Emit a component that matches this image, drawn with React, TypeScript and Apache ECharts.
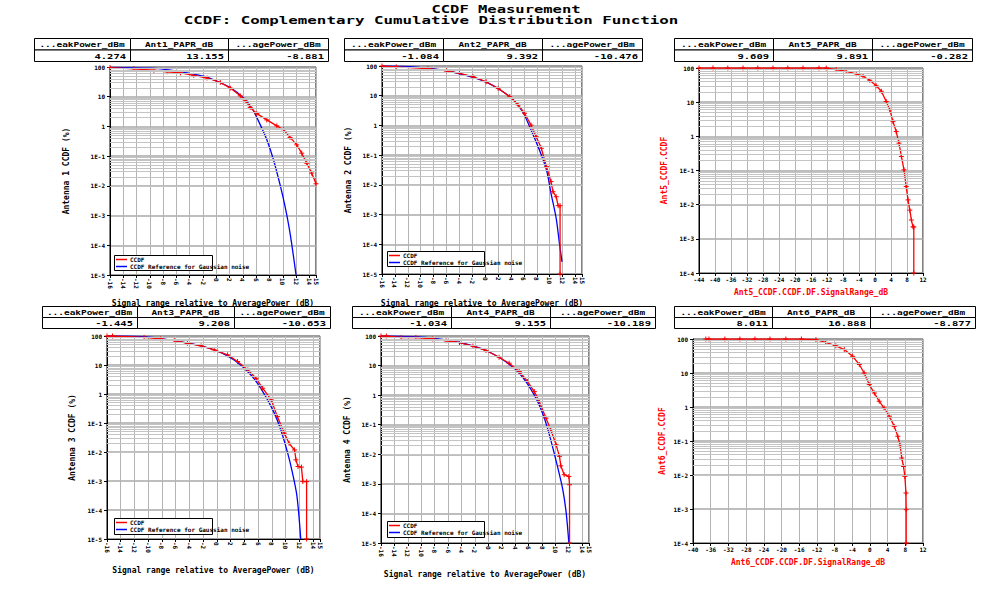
import React, { useEffect, useRef } from 'react';
import * as echarts from 'echarts';

// ---------------- DATA ----------------
const titleLines = ['CCDF Measurement', 'CCDF: Complementary Cumulative Distribution Function'];

const tableHeadersAnt1 = ['...eakPower_dBm', 'Ant1_PAPR_dB', '...agePower_dBm'];
const tableHeadersAnt2 = ['...eakPower_dBm', 'Ant2_PAPR_dB', '...agePower_dBm'];
const tableHeadersAnt5 = ['...eakPower_dBm', 'Ant5_PAPR_dB', '...agePower_dBm'];
const tableHeadersAnt3 = ['...eakPower_dBm', 'Ant3_PAPR_dB', '...agePower_dBm'];
const tableHeadersAnt4 = ['...eakPower_dBm', 'Ant4_PAPR_dB', '...agePower_dBm'];
const tableHeadersAnt6 = ['...eakPower_dBm', 'Ant6_PAPR_dB', '...agePower_dBm'];

const tableValuesAnt1 = ['4.274', '13.155', '-8.881'];
const tableValuesAnt2 = ['-1.084', '9.392', '-10.476'];
const tableValuesAnt5 = ['9.609', '9.891', '-0.282'];
const tableValuesAnt3 = ['-1.445', '9.208', '-10.653'];
const tableValuesAnt4 = ['-1.034', '9.155', '-10.189'];
const tableValuesAnt6 = ['8.011', '16.888', '-8.877'];

const legendNames = ['CCDF', 'CCDF Reference for Gaussian noise'];
const xNameRelative = 'Signal range relative to AveragePower (dB)';
const yNames = ['Antenna 1 CCDF (%)', 'Antenna 2 CCDF (%)', 'Ant5_CCDF.CCDF', 'Antenna 3 CCDF (%)', 'Antenna 4 CCDF (%)', 'Ant6_CCDF.CCDF'];
const xNameAnt5 = 'Ant5_CCDF.CCDF.DF.SignalRange_dB';
const xNameAnt6 = 'Ant6_CCDF.CCDF.DF.SignalRange_dB';

// CCDF curves: x in dB, y given as log10 of CCDF (%)
const ant1MeasX = [-16, -12.4, -9.4, -7.4, -5.4, -3.4, -1.4, 0.6, 2.1, 3.6, 4.35, 5.1, 6.1, 7.6, 9.1, 10.1, 11.1, 12.1, 12.85, 13.6, 14.35, 15];
const ant1MeasLog = [1.98, 1.94, 1.89, 1.84, 1.8, 1.72, 1.63, 1.48, 1.29, 1.03, 0.88, 0.64, 0.43, 0.22, 0.02, -0.11, -0.37, -0.62, -0.9, -1.24, -1.57, -1.93];
const ant1RefX = [-16, -9.9, -7.4, -4.4, -1.9, 0.1, 2.1, 4.1, 5.35, 6.6, 7.6, 8.6, 9.6, 10.35, 11.1, 12.0];
const ant1RefLog = [1.99, 1.96, 1.91, 1.8, 1.69, 1.52, 1.31, 0.96, 0.62, 0.06, -0.45, -1.12, -1.97, -2.7, -3.6, -5.0];

const ant2MeasX = [-16, -13.8, -8.9, -6.0, -4.0, -1.9, 0.15, 2.0, 3.8, 5.1, 6.1, 7.1, 7.9, 8.7, 9.5, 10.2, 10.5, 11.0, 11.3, 11.6, 11.6];
const ant2MeasLog = [2.0, 1.97, 1.91, 1.84, 1.75, 1.64, 1.47, 1.25, 0.97, 0.69, 0.41, 0.01, -0.38, -0.77, -1.39, -1.89, -2.23, -2.4, -2.7, -2.7, -5];
const ant2RefX = [-16, -10.7, -6, -1.9, 0.15, 2.2, 4.3, 5.8, 7.1, 8.4, 9.5, 10.2, 11.0, 11.5, 11.9];
const ant2RefLog = [2.0, 1.96, 1.84, 1.62, 1.46, 1.21, 0.88, 0.46, -0.15, -0.83, -1.5, -2.29, -3.13, -3.97, -4.59];

const ant3MeasX = [-16, -15.2, -10.6, -8.2, -6.2, -4.3, -2.3, -0.4, 1.55, 3.0, 4.5, 5.7, 6.65, 7.9, 8.8, 9.8, 10.5, 11.3, 11.5, 11.8, 12.3, 12.5, 13.05, 13.05];
const ant3MeasLog = [2, 2.0, 1.95, 1.9, 1.84, 1.75, 1.66, 1.52, 1.35, 1.12, 0.83, 0.54, 0.2, -0.2, -0.78, -1.35, -1.7, -1.93, -2.27, -2.5, -2.52, -3.02, -3.02, -5];
const ant3RefX = [-16, -10.6, -6.2, -2.3, 0.6, 2.5, 4.5, 5.9, 7.1, 8.35, 9.3, 10.3, 11.0, 11.65, 12.2];
const ant3RefLog = [2, 1.98, 1.84, 1.66, 1.43, 1.17, 0.77, 0.37, -0.09, -0.66, -1.24, -2.04, -2.73, -3.53, -5];

const ant4MeasX = [-16, -15.2, -13, -10.8, -8.3, -6.3, -4.3, -2.3, -0.35, 1.6, 3.1, 4.6, 5.85, 6.85, 7.6, 8.6, 9.3, 10.1, 10.6, 10.8, 11.3, 12.0, 12.1, 12.1];
const ant4MeasLog = [2, 2, 1.95, 1.95, 1.9, 1.84, 1.78, 1.66, 1.51, 1.28, 1.08, 0.8, 0.46, 0.12, -0.22, -0.78, -1.17, -1.68, -2.07, -2.39, -2.69, -2.75, -3.03, -5];
const ant4RefX = [-16, -9.3, -4.3, -0.35, 2.6, 4.6, 6.1, 7.35, 8.35, 9.3, 10.3, 11.1, 11.6, 12.0];
const ant4RefLog = [2, 1.95, 1.78, 1.51, 1.13, 0.74, 0.29, -0.22, -0.78, -1.51, -2.41, -3.2, -3.98, -5];

const ant5X = [-44, -40.5, -36.8, -33, -29.3, -25.5, -21.8, -18, -14, -12.2, -9.7, -7.2, -4.7, -3.0, -1.3, 0.3, 1.6, 2.8, 3.7, 4.5, 5.3, 6.0, 6.6, 7.25, 7.8, 8.25, 8.7, 9.1, 9.5, 9.7, 9.7];
const ant5Log = [2, 2, 2, 2, 2, 2, 2, 2, 2, 2.0, 1.95, 1.9, 1.83, 1.76, 1.64, 1.48, 1.32, 1.02, 0.78, 0.43, 0.14, -0.2, -0.59, -0.98, -1.47, -1.86, -2.16, -2.45, -2.65, -2.65, -4];

const ant6X = [-37.1, -36.4, -32.8, -29.4, -26, -22.6, -19, -15.5, -12.2, -10, -7.7, -5.8, -3.9, -2.4, -1.3, -0.15, 1.0, 2.1, 3.2, 4.4, 5.5, 6.3, 6.8, 7.2, 7.6, 7.9, 8.15, 8.2, 8.2];
const ant6Log = [2, 2, 2, 2, 2, 2, 2, 2, 1.98, 1.9, 1.8, 1.69, 1.49, 1.25, 1.0, 0.66, 0.41, 0.17, -0.03, -0.27, -0.57, -0.86, -1.11, -1.5, -1.75, -2.04, -2.53, -3.02, -4];

// x axis extents / tick steps
const relAxis = { min: -16, max: 15, interval: 2 };
const ant5Axis = { min: -44, max: 12, interval: 4 };
const ant6Axis = { min: -40, max: 12, interval: 4 };

// ---------------- LAYOUT ----------------
const FONT = '"DejaVu Sans Mono", "Liberation Mono", monospace';
const GRIDS = [
  { left: 110, top: 67, width: 206, height: 208 },
  { left: 382, top: 66, width: 200, height: 208 },
  { left: 699, top: 68, width: 224, height: 205 },
  { left: 107, top: 336, width: 213, height: 203 },
  { left: 381, top: 336, width: 208, height: 207 },
  { left: 693, top: 339, width: 230, height: 204 },
];
const TABLES = [
  { cols: [34, 130, 228, 328], rows: [38, 49.5, 61] },
  { cols: [344, 443, 542, 642], rows: [38, 49.5, 61] },
  { cols: [674, 773, 872, 972], rows: [38, 49.5, 61] },
  { cols: [42, 137, 234, 330], rows: [306, 317, 328] },
  { cols: [352, 451, 550, 655], rows: [306, 317, 328] },
  { cols: [674, 772, 870, 975], rows: [306, 317, 328] },
];
const LEGENDS = [
  { gi: 0, box: [114, 255, 98, 15] },
  { gi: 1, box: [387, 251, 97, 15] },
  { gi: 3, box: [114, 518, 98, 16] },
  { gi: 4, box: [387, 521, 97, 16] },
];

const toPairs = (xs: number[], logs: number[]) => xs.map((x, i) => [x, Math.pow(10, logs[i])]);

const PLUS = 'path://M0,5L10,5M5,0L5,10';

function buildOption() {
  const tableHeaders = [tableHeadersAnt1, tableHeadersAnt2, tableHeadersAnt5, tableHeadersAnt3, tableHeadersAnt4, tableHeadersAnt6];
  const tableValues = [tableValuesAnt1, tableValuesAnt2, tableValuesAnt5, tableValuesAnt3, tableValuesAnt4, tableValuesAnt6];

  const graphic: any[] = [];
  graphic.push({ type: 'text', x: 506, y: 10, scaleX: 1.55, style: { text: titleLines[0], font: `bold 10px ${FONT}`, fill: '#000', textAlign: 'center', align: 'center', textVerticalAlign: 'middle', verticalAlign: 'middle' } });
  graphic.push({ type: 'text', x: 431, y: 21, scaleX: 1.58, style: { text: titleLines[1], font: `bold 10px ${FONT}`, fill: '#000', textAlign: 'center', align: 'center', textVerticalAlign: 'middle', verticalAlign: 'middle' } });

  TABLES.forEach((t, ti) => {
    const [y0, y1, y2] = t.rows;
    for (let c = 0; c < 3; c++) {
      const x0 = t.cols[c];
      const x1 = t.cols[c + 1];
      graphic.push({ type: 'rect', shape: { x: x0 + 0.5, y: y0 + 0.5, width: x1 - x0, height: y1 - y0 }, style: { fill: '#fff', stroke: '#000', lineWidth: 1 } });
      graphic.push({ type: 'rect', shape: { x: x0 + 0.5, y: y1 + 0.5, width: x1 - x0, height: y2 - y1 }, style: { fill: '#fff', stroke: '#000', lineWidth: 1 } });
      graphic.push({ type: 'text', x: (x0 + x1) / 2, y: (y0 + y1) / 2 + 1, scaleX: 1.35, style: { text: tableHeaders[ti][c], font: `bold 7px ${FONT}`, fill: '#000', textAlign: 'center', align: 'center', textVerticalAlign: 'middle', verticalAlign: 'middle' } });
      graphic.push({ type: 'text', x: x1 - 4, y: (y1 + y2) / 2 + 1, scaleX: 1.5, style: { text: tableValues[ti][c], font: `bold 7px ${FONT}`, fill: '#000', textAlign: 'right', align: 'right', textVerticalAlign: 'middle', verticalAlign: 'middle' } });
    }
  });

  LEGENDS.forEach((l) => {
    const [x, y, w, h] = l.box;
    graphic.push({ type: 'rect', z: 10, shape: { x: x + 0.5, y: y + 0.5, width: w, height: h }, style: { fill: '#fff', stroke: '#000', lineWidth: 1 } });
  });

  const grid = GRIDS.map((g) => ({ ...g, show: true, borderColor: '#000', borderWidth: 1, backgroundColor: 'transparent', containLabel: false }));

  const axisFont = { fontSize: 6, fontFamily: FONT, fontWeight: 'bold' as const, color: '#000' };
  const nameFont = { fontSize: 8, fontFamily: FONT, fontWeight: 'bold' as const, color: '#000' };
  const redNameFont = { ...nameFont, color: '#ff0000' };

  const xSpecs = [
    { ext: relAxis, name: xNameRelative, gap: 24, rot: -90, font: nameFont },
    { ext: relAxis, name: xNameRelative, gap: 25, rot: -90, font: nameFont },
    { ext: ant5Axis, name: xNameAnt5, gap: 15, rot: 0, font: redNameFont },
    { ext: relAxis, name: xNameRelative, gap: 27, rot: -90, font: nameFont },
    { ext: relAxis, name: xNameRelative, gap: 27, rot: -90, font: nameFont },
    { ext: ant6Axis, name: xNameAnt6, gap: 15, rot: 0, font: redNameFont },
  ];
  const xAxis = xSpecs.map((s, i) => ({
    type: 'value',
    gridIndex: i,
    min: s.ext.min,
    max: s.ext.max,
    interval: s.ext.interval,
    name: s.name,
    nameLocation: 'middle',
    nameGap: s.gap,
    nameTextStyle: s.font,
    axisLine: { show: true, onZero: false, lineStyle: { color: '#000', width: 1 } },
    axisTick: { show: true, length: 3, lineStyle: { color: '#000' } },
    axisLabel: { ...axisFont, rotate: s.rot, margin: 3, showMinLabel: true, showMaxLabel: true, hideOverlap: false },
    splitLine: { show: true, lineStyle: { color: '#b4b4b4', width: 1 } },
  }));

  const yGaps = [40, 30, 31, 31, 30, 27];
  const yMins = [1e-5, 1e-5, 1e-4, 1e-5, 1e-5, 1e-4];
  const yAxis = GRIDS.map((_, i) => ({
    type: 'log',
    logBase: 10,
    gridIndex: i,
    min: yMins[i],
    max: 100,
    name: yNames[i],
    nameLocation: 'middle',
    nameGap: yGaps[i],
    nameTextStyle: i === 2 || i === 5 ? redNameFont : nameFont,
    axisLine: { show: true, onZero: false, lineStyle: { color: '#000', width: 1 } },
    axisTick: { show: true, length: 3, lineStyle: { color: '#000' } },
    axisLabel: {
      ...axisFont,
      margin: 5,
      formatter: (v: number) => {
        const e = Math.round(Math.log10(v));
        return e >= 0 ? String(Math.round(Math.pow(10, e))) : '1E' + e;
      },
    },
    splitLine: { show: true, lineStyle: { color: '#a8a8a8', width: 1.6 } },
  }));

  const series: any[] = [];
  GRIDS.forEach((_, i) => {
    const minExp = Math.round(Math.log10(yMins[i]));
    const lines: any[] = [];
    for (let e = minExp; e < 2; e++) {
      for (let k = 2; k <= 9; k++) lines.push({ yAxis: k * Math.pow(10, e) });
    }
    series.push({
      type: 'line',
      name: 'minor-grid-' + i,
      xAxisIndex: i,
      yAxisIndex: i,
      data: [],
      silent: true,
      z: 1,
      markLine: {
        silent: true,
        symbol: ['none', 'none'],
        label: { show: false },
        lineStyle: { color: '#c4c4c4', width: 1, type: 'solid' },
        emphasis: { disabled: true },
        data: lines,
      },
    });
  });

  const red = (i: number, name: string, xs: number[], logs: number[]) => ({
    type: 'line',
    name,
    xAxisIndex: i,
    yAxisIndex: i,
    data: toPairs(xs, logs),
    showSymbol: true,
    showAllSymbol: true,
    symbol: PLUS,
    symbolSize: 5,
    itemStyle: { color: '#ff0000', borderColor: '#ff0000', borderWidth: 1 },
    lineStyle: { color: '#ff0000', width: 1.3 },
    z: 4,
    clip: true,
  });
  const blue = (i: number, xs: number[], logs: number[]) => ({
    type: 'line',
    name: legendNames[1],
    xAxisIndex: i,
    yAxisIndex: i,
    data: toPairs(xs, logs),
    showSymbol: false,
    smooth: 0.3,
    itemStyle: { color: '#0000ff' },
    lineStyle: { color: '#0000ff', width: 1.3 },
    z: 3,
    clip: true,
  });

  series.push(blue(0, ant1RefX, ant1RefLog), red(0, legendNames[0], ant1MeasX, ant1MeasLog));
  series.push(blue(1, ant2RefX, ant2RefLog), red(1, legendNames[0], ant2MeasX, ant2MeasLog));
  series.push(red(2, 'Ant5_CCDF.CCDF', ant5X, ant5Log));
  series.push(blue(3, ant3RefX, ant3RefLog), red(3, legendNames[0], ant3MeasX, ant3MeasLog));
  series.push(blue(4, ant4RefX, ant4RefLog), red(4, legendNames[0], ant4MeasX, ant4MeasLog));
  series.push(red(5, 'Ant6_CCDF.CCDF', ant6X, ant6Log));

  const legend = LEGENDS.map((l) => ({
    left: l.box[0] + 2,
    top: l.box[1] + 1,
    orient: 'vertical',
    data: legendNames,
    icon: 'rect',
    itemWidth: 11,
    itemHeight: 1.5,
    itemGap: 0,
    padding: 0,
    selectedMode: false,
    z: 20,
    itemStyle: { borderWidth: 0 },
    textStyle: { fontSize: 6, fontFamily: FONT, fontWeight: 'bold', color: '#000', lineHeight: 7, padding: [0, 0, 0, -2] },
  }));

  return { animation: false, backgroundColor: '#fff', graphic, grid, xAxis, yAxis, series, legend };
}

export default function App() {
  const ref = useRef<HTMLDivElement>(null);
  useEffect(() => {
    if (!ref.current) return;
    const chart = echarts.init(ref.current, undefined, { renderer: 'svg' });
    chart.setOption(buildOption() as any);
    return () => chart.dispose();
  }, []);
  return <div ref={ref} style={{ position: 'fixed', left: 0, top: 0, width: 1000, height: 602, background: '#fff' }} />;
}
